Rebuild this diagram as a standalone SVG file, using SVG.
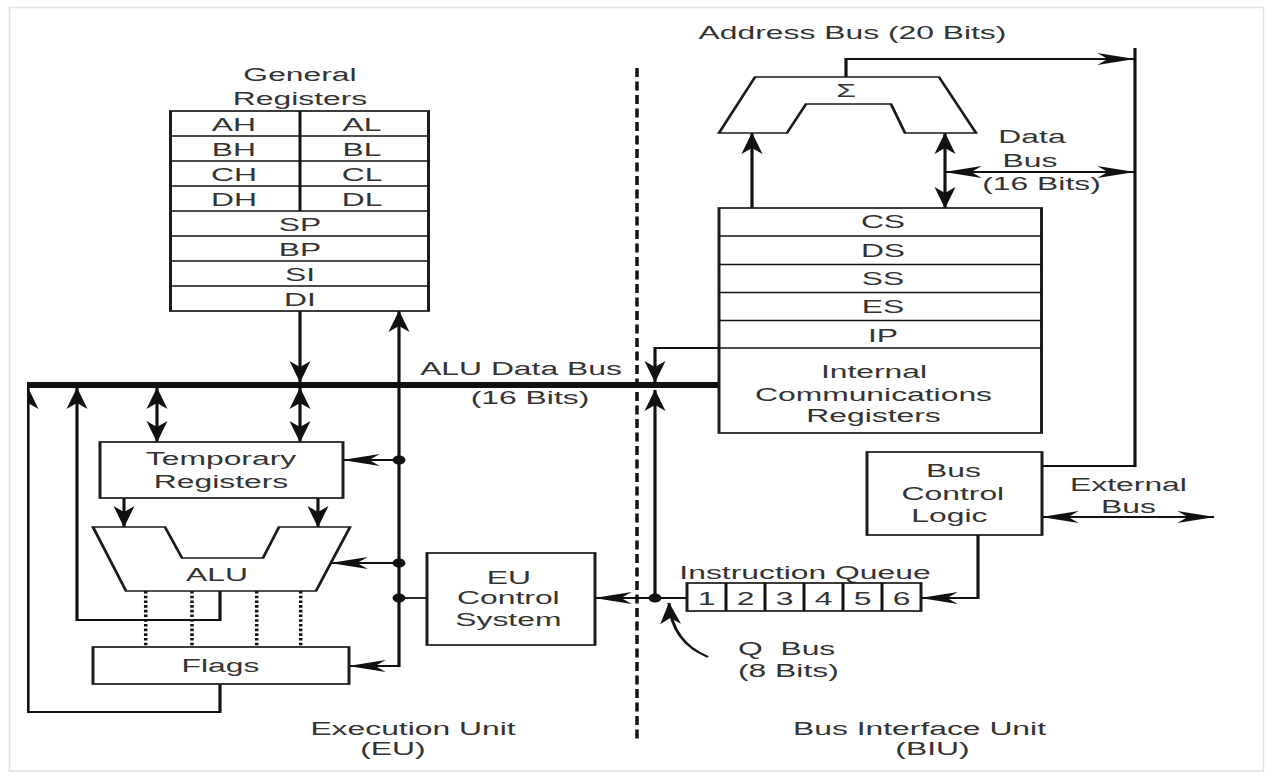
<svg xmlns="http://www.w3.org/2000/svg" width="1267" height="773" viewBox="0 0 1267 773">
  <style>
    .box { fill: #fff; stroke: #1a1a1a; stroke-width: 1.7; }
    .ln { fill: none; stroke: #111; stroke-width: 1.8; }
    .arr { marker-end: url(#ah); }
    .arr2 { marker-start: url(#ah); marker-end: url(#ah); }
    .dot { fill: #111; }
    .dotted { fill: none; stroke: #111; stroke-width: 2; stroke-dasharray: 2.6 2.1; }
    .t { font-family: "Liberation Sans", Arial, sans-serif; font-size: 18.2px; fill: #333; text-anchor: middle; }
    .ts { text-anchor: start; }
  </style>
  <defs>
    <marker id="ah" viewBox="-22 -7 23 14" refX="0" refY="0" markerWidth="23" markerHeight="14" markerUnits="userSpaceOnUse" orient="auto-start-reverse">
      <path d="M0.5,0 L-21,-6 L-15,0 L-21,6 Z" fill="#111"/>
    </marker>
    <clipPath id="leftcut" clipPathUnits="userSpaceOnUse">
      <rect x="15.43" y="0" width="720" height="773"/>
    </clipPath>
    <filter id="soft" x="-50%" y="-5%" width="200%" height="110%">
      <feGaussianBlur stdDeviation="1.2"/>
    </filter>
  </defs>

  <!-- page frame -->
  <rect x="0" y="0" width="1267" height="773" fill="#fff"/>
  <rect x="9.5" y="7.5" width="1254" height="763.5" fill="#fff" stroke="#e2e2e2" stroke-width="1.5"/>
  <line x1="10" y1="9" x2="10" y2="771" stroke="#b8b8b8" stroke-width="3" filter="url(#soft)"/>

  <!-- drawing is laid out in a horizontally compressed frame -->
  <g transform="scale(1.75 1)">

    <!-- connectors -->
    <g id="connectors">
      <!-- ALU data bus -->
      <path d="M15.43,385 H410.86" fill="none" stroke="#111" stroke-width="6"/>
      <!-- EU / BIU boundary -->
      <path d="M364,68 V740" fill="none" stroke="#111" stroke-width="2" stroke-dasharray="9 4.5"/>

      <!-- general registers to bus -->
      <path class="ln arr" d="M171.43,311 V382"/>
      <!-- internal control line to registers and flags -->
      <path class="ln arr2" d="M228,311 V666 H199.43"/>
      <path class="ln arr" d="M228,460 H196"/>
      <path class="ln arr" d="M228,563 H189.14"/>
      <path class="ln" d="M228,598 H244"/>
      <!-- bus to temporary registers -->
      <path class="ln arr2" d="M89.71,388 V442"/>
      <path class="ln arr2" d="M171.43,388 V442"/>
      <!-- temporary registers to ALU -->
      <path class="ln arr" d="M70.86,498 V527"/>
      <path class="ln arr" d="M181.71,498 V527"/>
      <!-- ALU to flags -->
      <path class="dotted" d="M83.26,591 V647"/>
      <path class="dotted" d="M109.71,591 V647"/>
      <path class="dotted" d="M146.69,591 V647"/>
      <path class="dotted" d="M171.83,591 V647"/>
      <!-- ALU result back to bus -->
      <path class="ln arr" d="M125.71,591 V620 H44 V388"/>
      <!-- flags back to bus -->
      <path class="ln arr" d="M125.71,684 V712 H16 V388" clip-path="url(#leftcut)"/>

      <!-- instruction queue to EU control -->
      <path class="ln arr" d="M392.57,598 H340"/>
      <path class="ln arr" d="M374.29,598 V390"/>
      <!-- IP / internal registers to bus -->
      <path class="ln arr" d="M410.86,348 H374.29 V382"/>
      <!-- Q bus pointer -->
      <path class="ln arr" d="M404.57,657 Q384,642 382.29,603"/>

      <!-- segment registers to adder -->
      <path class="ln arr" d="M429.71,208 V133"/>
      <path class="ln arr2" d="M540,208 V133"/>
      <path class="ln arr2" d="M540,172 H648"/>
      <!-- adder output to address bus -->
      <path class="ln arr" d="M483.43,77 V59 H648"/>
      <path class="ln" d="M648.57,48 V466 H595.43"/>
      <!-- external bus -->
      <path class="ln arr2" d="M595.43,517 H693.71"/>
      <!-- bus control to queue -->
      <path class="ln arr" d="M558.86,535 V598 H526.29"/>

      <ellipse class="dot" cx="228" cy="460" rx="3.7" ry="4.5"/>
      <ellipse class="dot" cx="228" cy="563" rx="3.7" ry="4.5"/>
      <ellipse class="dot" cx="228" cy="598" rx="3.7" ry="4.5"/>
      <ellipse class="dot" cx="374.29" cy="598" rx="3.7" ry="4.5"/>
    </g>

    <!-- general registers -->
    <g id="general-registers">
      <text class="t" x="171.43" y="81">General</text>
      <text class="t" x="171.43" y="105">Registers</text>
      <rect class="box" x="97.43" y="111" width="147.43" height="200"/>
      <path class="ln" style="stroke-width:1.7" d="M97.43,136 H244.86 M97.43,161 H244.86 M97.43,186 H244.86 M97.43,211 H244.86 M97.43,236 H244.86 M97.43,261 H244.86 M97.43,286 H244.86 M171.43,111 V211"/>
      <text class="t" x="133.71" y="131">AH</text>
      <text class="t" x="206.86" y="131">AL</text>
      <text class="t" x="133.71" y="156">BH</text>
      <text class="t" x="206.86" y="156">BL</text>
      <text class="t" x="133.71" y="181">CH</text>
      <text class="t" x="206.86" y="181">CL</text>
      <text class="t" x="133.71" y="206">DH</text>
      <text class="t" x="206.86" y="206">DL</text>
      <text class="t" x="171.43" y="231">SP</text>
      <text class="t" x="171.43" y="256">BP</text>
      <text class="t" x="171.43" y="281">SI</text>
      <text class="t" x="171.43" y="306">DI</text>
    </g>

    <g id="alu-data-bus-label">
      <text class="t" x="297.71" y="375">ALU Data Bus</text>
      <text class="t" x="302.86" y="404">(16 Bits)</text>
    </g>

    <g id="temporary-registers">
      <rect class="box" x="57.14" y="442" width="138.86" height="56"/>
      <text class="t" x="126.29" y="465">Temporary</text>
      <text class="t" x="126.29" y="488">Registers</text>
    </g>

    <g id="alu">
      <polygon class="box" points="53.14,527 94.29,527 104,558 150.29,558 159.43,527 200,527 180.57,591 72,591"/>
      <text class="t" x="124" y="581">ALU</text>
    </g>

    <g id="flags">
      <rect class="box" x="53.14" y="647" width="146.29" height="37"/>
      <text class="t" x="126" y="672">Flags</text>
    </g>

    <g id="eu-control">
      <rect class="box" x="244" y="553" width="96" height="92"/>
      <text class="t" x="290.8" y="584">EU</text>
      <text class="t" x="290.5" y="604">Control</text>
      <text class="t" x="290.5" y="626">System</text>
    </g>

    <g id="eu-label">
      <text class="t" x="236" y="735">Execution Unit</text>
      <text class="t" x="224.57" y="755">(EU)</text>
    </g>

    <g id="address-adder">
      <text class="t" x="487.14" y="39">Address Bus (20 Bits)</text>
      <polygon class="box" points="431.43,77 536.57,77 557.71,133 517.14,133 509.14,104 460.57,104 449.71,133 410.86,133"/>
      <text class="t" x="483.43" y="97">Σ</text>
    </g>

    <g id="data-bus-label">
      <text class="t" x="589.71" y="143">Data</text>
      <text class="t" x="588.57" y="167">Bus</text>
      <text class="t" x="595.14" y="190">(16 Bits)</text>
    </g>

    <g id="segment-registers">
      <rect class="box" x="410.86" y="208" width="184.29" height="225"/>
      <path class="ln" style="stroke-width:1.7" d="M410.86,236 H595.14 M410.86,264.5 H595.14 M410.86,292.5 H595.14 M410.86,320.5 H595.14 M410.86,348 H595.14"/>
      <text class="t" x="504.57" y="228">CS</text>
      <text class="t" x="504.57" y="257">DS</text>
      <text class="t" x="504.57" y="285">SS</text>
      <text class="t" x="504.57" y="313">ES</text>
      <text class="t" x="504.57" y="342">IP</text>
      <text class="t" x="499.43" y="378">Internal</text>
      <text class="t" x="499.14" y="401">Communications</text>
      <text class="t" x="499.14" y="422">Registers</text>
    </g>

    <g id="bus-control-logic">
      <rect class="box" x="495.43" y="452" width="100" height="83"/>
      <text class="t" x="544.8" y="477">Bus</text>
      <text class="t" x="544.5" y="500">Control</text>
      <text class="t" x="542.5" y="522">Logic</text>
    </g>

    <g id="external-bus-label">
      <text class="t" x="644.86" y="491">External</text>
      <text class="t" x="644.86" y="513">Bus</text>
    </g>

    <g id="instruction-queue">
      <text class="t" x="460" y="579">Instruction Queue</text>
      <rect class="box" x="392.57" y="583" width="133.72" height="28"/>
      <path class="ln" style="stroke-width:1.7" d="M414.86,583 V611 M437.14,583 V611 M459.43,583 V611 M481.71,583 V611 M504,583 V611"/>
      <text class="t" x="403.71" y="605">1</text>
      <text class="t" x="426" y="605">2</text>
      <text class="t" x="448.29" y="605">3</text>
      <text class="t" x="470.57" y="605">4</text>
      <text class="t" x="492.86" y="605">5</text>
      <text class="t" x="515.14" y="605">6</text>
    </g>

    <g id="q-bus-label">
      <text class="t ts" x="421.71" y="655" xml:space="preserve">Q  Bus</text>
      <text class="t ts" x="421.71" y="677">(8 Bits)</text>
    </g>

    <g id="biu-label">
      <text class="t" x="525.43" y="735">Bus Interface Unit</text>
      <text class="t" x="532.86" y="755">(BIU)</text>
    </g>
  </g>
</svg>
